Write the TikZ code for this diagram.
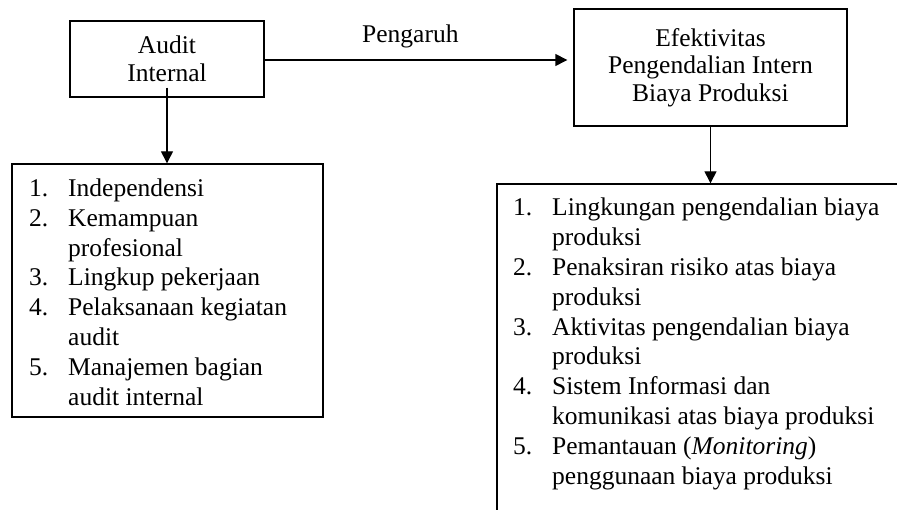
\documentclass[tikz,border=0pt]{standalone}
\usepackage{fontspec}
\setmainfont{Liberation Serif}
\usetikzlibrary{arrows.meta}
\begin{document}
\begin{tikzpicture}[x=1pt,y=-1pt,
  box/.style={draw,line width=1.4pt,inner sep=0pt},
  arr/.style={line width=1.4pt,-{Triangle[length=12pt,width=12pt]}},
  txt/.style={inner sep=0pt,font=\fontsize{25.5}{29.8}\selectfont},
  ctxt/.style={align=center,font=\fontsize{25.5}{27.5}\selectfont}]
\useasboundingbox (0,0) rectangle (897,510);
\clip (0,0) rectangle (897,510);
\fill[white] (0,0) rectangle (897,510);
% boxes
\node[box,ctxt,minimum width=194pt,minimum height=76pt] (ai) at (167,59) {Audit\\Internal};
\node[box,ctxt,minimum width=273pt,minimum height=117pt] (ef) at (710.5,67.5) {Efektivitas\\Pengendalian Intern\\Biaya Produksi};
\node[box,minimum width=311pt,minimum height=253pt] (lb) at (167.5,290.5) {};
\node[box,minimum width=408pt,minimum height=341pt] (rb) at (701,354.5) {};
% label
\node[txt,anchor=base west] (pg) at (362,43) {Pengaruh};
% lists
\node[txt,anchor=base west] (ll) at (29,196.5) {\begin{tabular}[t]{@{}p{39pt}@{}l@{}}
1. & Independensi\\
2. & Kemampuan\\
   & profesional\\
3. & Lingkup pekerjaan\\
4. & Pelaksanaan kegiatan\\
   & audit\\
5. & Manajemen bagian\\
   & audit internal
\end{tabular}};
\node[txt,anchor=base west] (rl) at (513,216) {\begin{tabular}[t]{@{}p{39pt}@{}l@{}}
1. & Lingkungan pengendalian biaya\\
   & produksi\\
2. & Penaksiran risiko atas biaya\\
   & produksi\\
3. & Aktivitas pengendalian biaya\\
   & produksi\\
4. & Sistem Informasi dan\\
   & komunikasi atas biaya produksi\\
5. & Pemantauan (\textit{Monitoring})\\
   & penggunaan biaya produksi
\end{tabular}};
% connectors
\draw[arr] ([yshift=10pt]ai.south) -- (ai.south |- lb.north);
\draw[arr,shorten >=6pt] ([yshift=-1pt]ai.east) -- ([yshift=-1pt]ai.east -| ef.west);
\draw[arr] (ef.south) -- (ef.south |- rb.north);
\end{tikzpicture}
\end{document}
